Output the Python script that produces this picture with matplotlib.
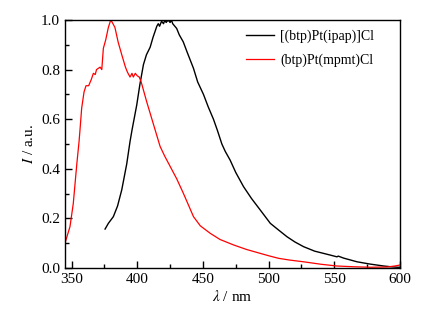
import numpy as np
import matplotlib
matplotlib.use('Agg')
import matplotlib.pyplot as plt
from matplotlib.ticker import MultipleLocator

plt.rcParams['font.family'] = ['Liberation Serif', 'DejaVu Serif']
plt.rcParams['mathtext.fontset'] = 'stix'

# [(btp)Pt(ipap)]Cl  (black)
wl_ipap = [375.5, 378, 381.8, 385, 388.2, 392, 394.5, 396, 399.6, 402, 404.7, 407,
           409.8, 412, 414.9, 416, 417, 418.5, 420, 421, 422, 423.5, 425, 426, 427,
           430, 432, 435, 438, 442.8, 446, 450.4, 454, 458, 461, 464.4, 467, 470.7,
           475, 480.9, 487, 493.6, 501.3, 507.6, 514, 520, 526.6, 535, 547, 552,
           553, 557, 567.3, 577, 587.6, 593, 598, 600]
I_ipap = [0.157, 0.18, 0.207, 0.25, 0.315, 0.42, 0.51, 0.556, 0.657, 0.74, 0.82,
          0.86, 0.89, 0.93, 0.975, 0.985, 0.975, 0.995, 0.985, 1.0, 0.99, 1.0, 0.99,
          1.0, 0.985, 0.966, 0.94, 0.912, 0.87, 0.805, 0.75, 0.70, 0.65, 0.60,
          0.555, 0.50, 0.47, 0.435, 0.385, 0.328, 0.28, 0.234, 0.18, 0.153, 0.126,
          0.105, 0.086, 0.068, 0.052, 0.045, 0.048, 0.04, 0.025, 0.016, 0.008,
          0.005, 0.003, 0.003]

# (btp)Pt(mpmt)Cl  (red)
wl_mpmt = [345, 348.8, 351.3, 354, 355.7, 356.4, 357.7, 359.5, 361, 363, 365,
           366.6, 368, 369, 371.7, 373, 374.2, 376, 378, 379.8, 381, 383, 385.5,
           388.2, 391, 392.5, 394.5, 396, 397, 398.5, 400, 401.5, 403, 407.2,
           412.3, 417.4, 421, 425, 430, 435.2, 442.8, 448, 455.5, 463, 473.3, 483,
           493.6, 501, 507.6, 516, 526.6, 540, 552, 565, 577.5, 590, 596, 600]
I_mpmt = [0.10, 0.167, 0.26, 0.42, 0.51, 0.556, 0.645, 0.71, 0.735, 0.735, 0.76,
          0.785, 0.78, 0.80, 0.81, 0.80, 0.886, 0.92, 0.97, 1.0, 0.99, 0.97, 0.91,
          0.86, 0.81, 0.79, 0.77, 0.785, 0.77, 0.785, 0.775, 0.77, 0.75, 0.67,
          0.58, 0.49, 0.45, 0.41, 0.36, 0.30, 0.207, 0.17, 0.14, 0.115, 0.093,
          0.075, 0.059, 0.048, 0.039, 0.032, 0.025, 0.015, 0.008, 0.005, 0.003,
          0.004, 0.008, 0.012]

fig = plt.figure(figsize=(4.32, 3.21), dpi=100)
ax = fig.add_axes([65/432, 1-268/321, 335/432, 248/321])

ax.plot(wl_ipap, I_ipap, '-', color='black', lw=1.0, label='[(btp)Pt(ipap)]Cl')
ax.plot(wl_mpmt, I_mpmt, '-', color='red', lw=0.9, label='(btp)Pt(mpmt)Cl')

ax.set_xlim(345, 600)
ax.set_ylim(0, 1.0)
ax.xaxis.set_major_locator(MultipleLocator(50))
ax.xaxis.set_minor_locator(MultipleLocator(25))
ax.yaxis.set_major_locator(MultipleLocator(0.2))
ax.yaxis.set_minor_locator(MultipleLocator(0.1))
ax.yaxis.set_major_formatter(matplotlib.ticker.FormatStrFormatter('%.1f'))
ax.tick_params(which='both', direction='in', top=False, right=False, labelsize=11)
ax.tick_params(which='major', length=5, width=1)
ax.tick_params(which='minor', length=3, width=1)
for s in ax.spines.values():
    s.set_linewidth(1.0)

ax.set_xlabel(r'$\lambda$ / nm', fontsize=11, labelpad=2)
ax.set_ylabel(r'$I$ / a.u.', fontsize=11, labelpad=4)
ax.legend(loc='upper left', frameon=False, fontsize=10, handlelength=2.0,
          handletextpad=0.45, borderpad=0, borderaxespad=0, labelspacing=0.72,
          bbox_to_anchor=(181/335, 0.96))

plt.savefig('out.png', dpi=100)
